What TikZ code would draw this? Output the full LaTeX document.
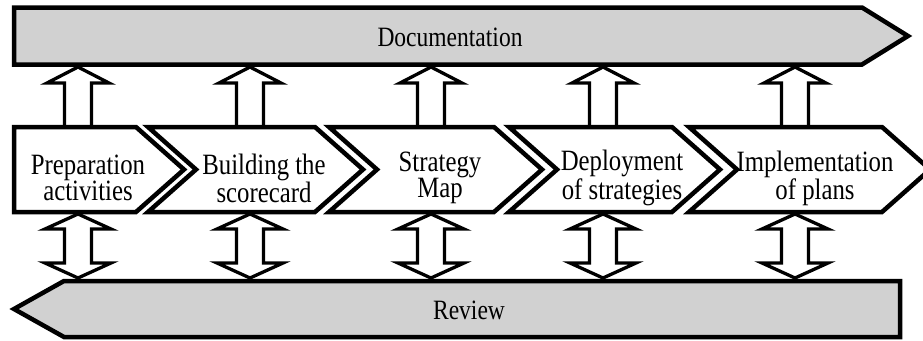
\documentclass[tikz,border=0pt]{standalone}
\usepackage{fontspec}
\setmainfont[FakeStretch=0.84]{Liberation Serif}
\usetikzlibrary{calc}

\tikzset{
  docbar/.style={draw, line width=4.5pt, fill=black!18},
  stagebox/.style={draw, line width=4.5pt, fill=white},
  blockarrow/.style={draw, line width=3.3pt, fill=white},
  stagetext/.style={font=\fontsize{29.5}{26}\selectfont, align=center, inner sep=0pt},
  bartext/.style={font=\fontsize{28}{30}\selectfont, inner sep=0pt},
}

\begin{document}
\begin{tikzpicture}[x=1pt, y=-1pt]
\useasboundingbox (0,0) rectangle (923,340);

% arrow ends
\foreach \x [count=\i] in {78,250,431,603,795} {
  \coordinate (s\i) at (\x,127);
  \coordinate (d\i) at (\x,67);
  \coordinate (u\i) at (\x,214);
  \coordinate (v\i) at (\x,278);
}

% up arrows to documentation
\foreach \i in {1,...,5} {
  \draw[blockarrow] ($(s\i)+(-13.5,0)$) -- ($(d\i)+(-13.5,16)$) -- ($(d\i)+(-31,16)$) -- (d\i)
    -- ($(d\i)+(31,16)$) -- ($(d\i)+(13.5,16)$) -- ($(s\i)+(13.5,0)$);
}

% double arrows to review
\foreach \i in {1,...,5} {
  \draw[blockarrow] (u\i) -- ($(u\i)+(33,15)$) -- ($(u\i)+(13.5,15)$) -- ($(v\i)+(13.5,-15)$)
    -- ($(v\i)+(33,-15)$) -- (v\i) -- ($(v\i)+(-33,-15)$) -- ($(v\i)+(-13.5,-15)$)
    -- ($(u\i)+(-13.5,15)$) -- ($(u\i)+(-33,15)$) -- cycle;
}

% bars
\draw[docbar] (14,7.5) -- (862,7.5) -- (908,36) -- (862,64.5) -- (14,64.5) -- cycle;
\draw[docbar] (900,281) -- (64,281) -- (14,309) -- (64,337) -- (900,337) -- cycle;

% stages
\draw[stagebox] (14,127) -- (136,127) -- (184,169.5) -- (136,212) -- (14,212) -- cycle;
\foreach \l/\r in {148/315, 329/494, 509/672, 689/882}
  \draw[stagebox] (\l,127) -- (\r,127) -- ++(48,42.5) -- (\r,212) -- (\l,212) -- ++(48,-42.5) -- cycle;

\node[bartext] (doc) at (450,37) {Documentation};
\node[bartext] (rev) at (469,310) {Review};

\node[stagetext] (p1) at (88,178) {Preparation\\activities};
\node[stagetext] (p2) at (264,178) {Building the\\scorecard};
\node[stagetext] (p3) at (440,178) {Strategy\\Map};
\node[stagetext] (p4) at (622,178) {Deployment\\of strategies};
\node[stagetext] (p5) at (815,178) {Implementation\\of plans};

\end{tikzpicture}
\end{document}
